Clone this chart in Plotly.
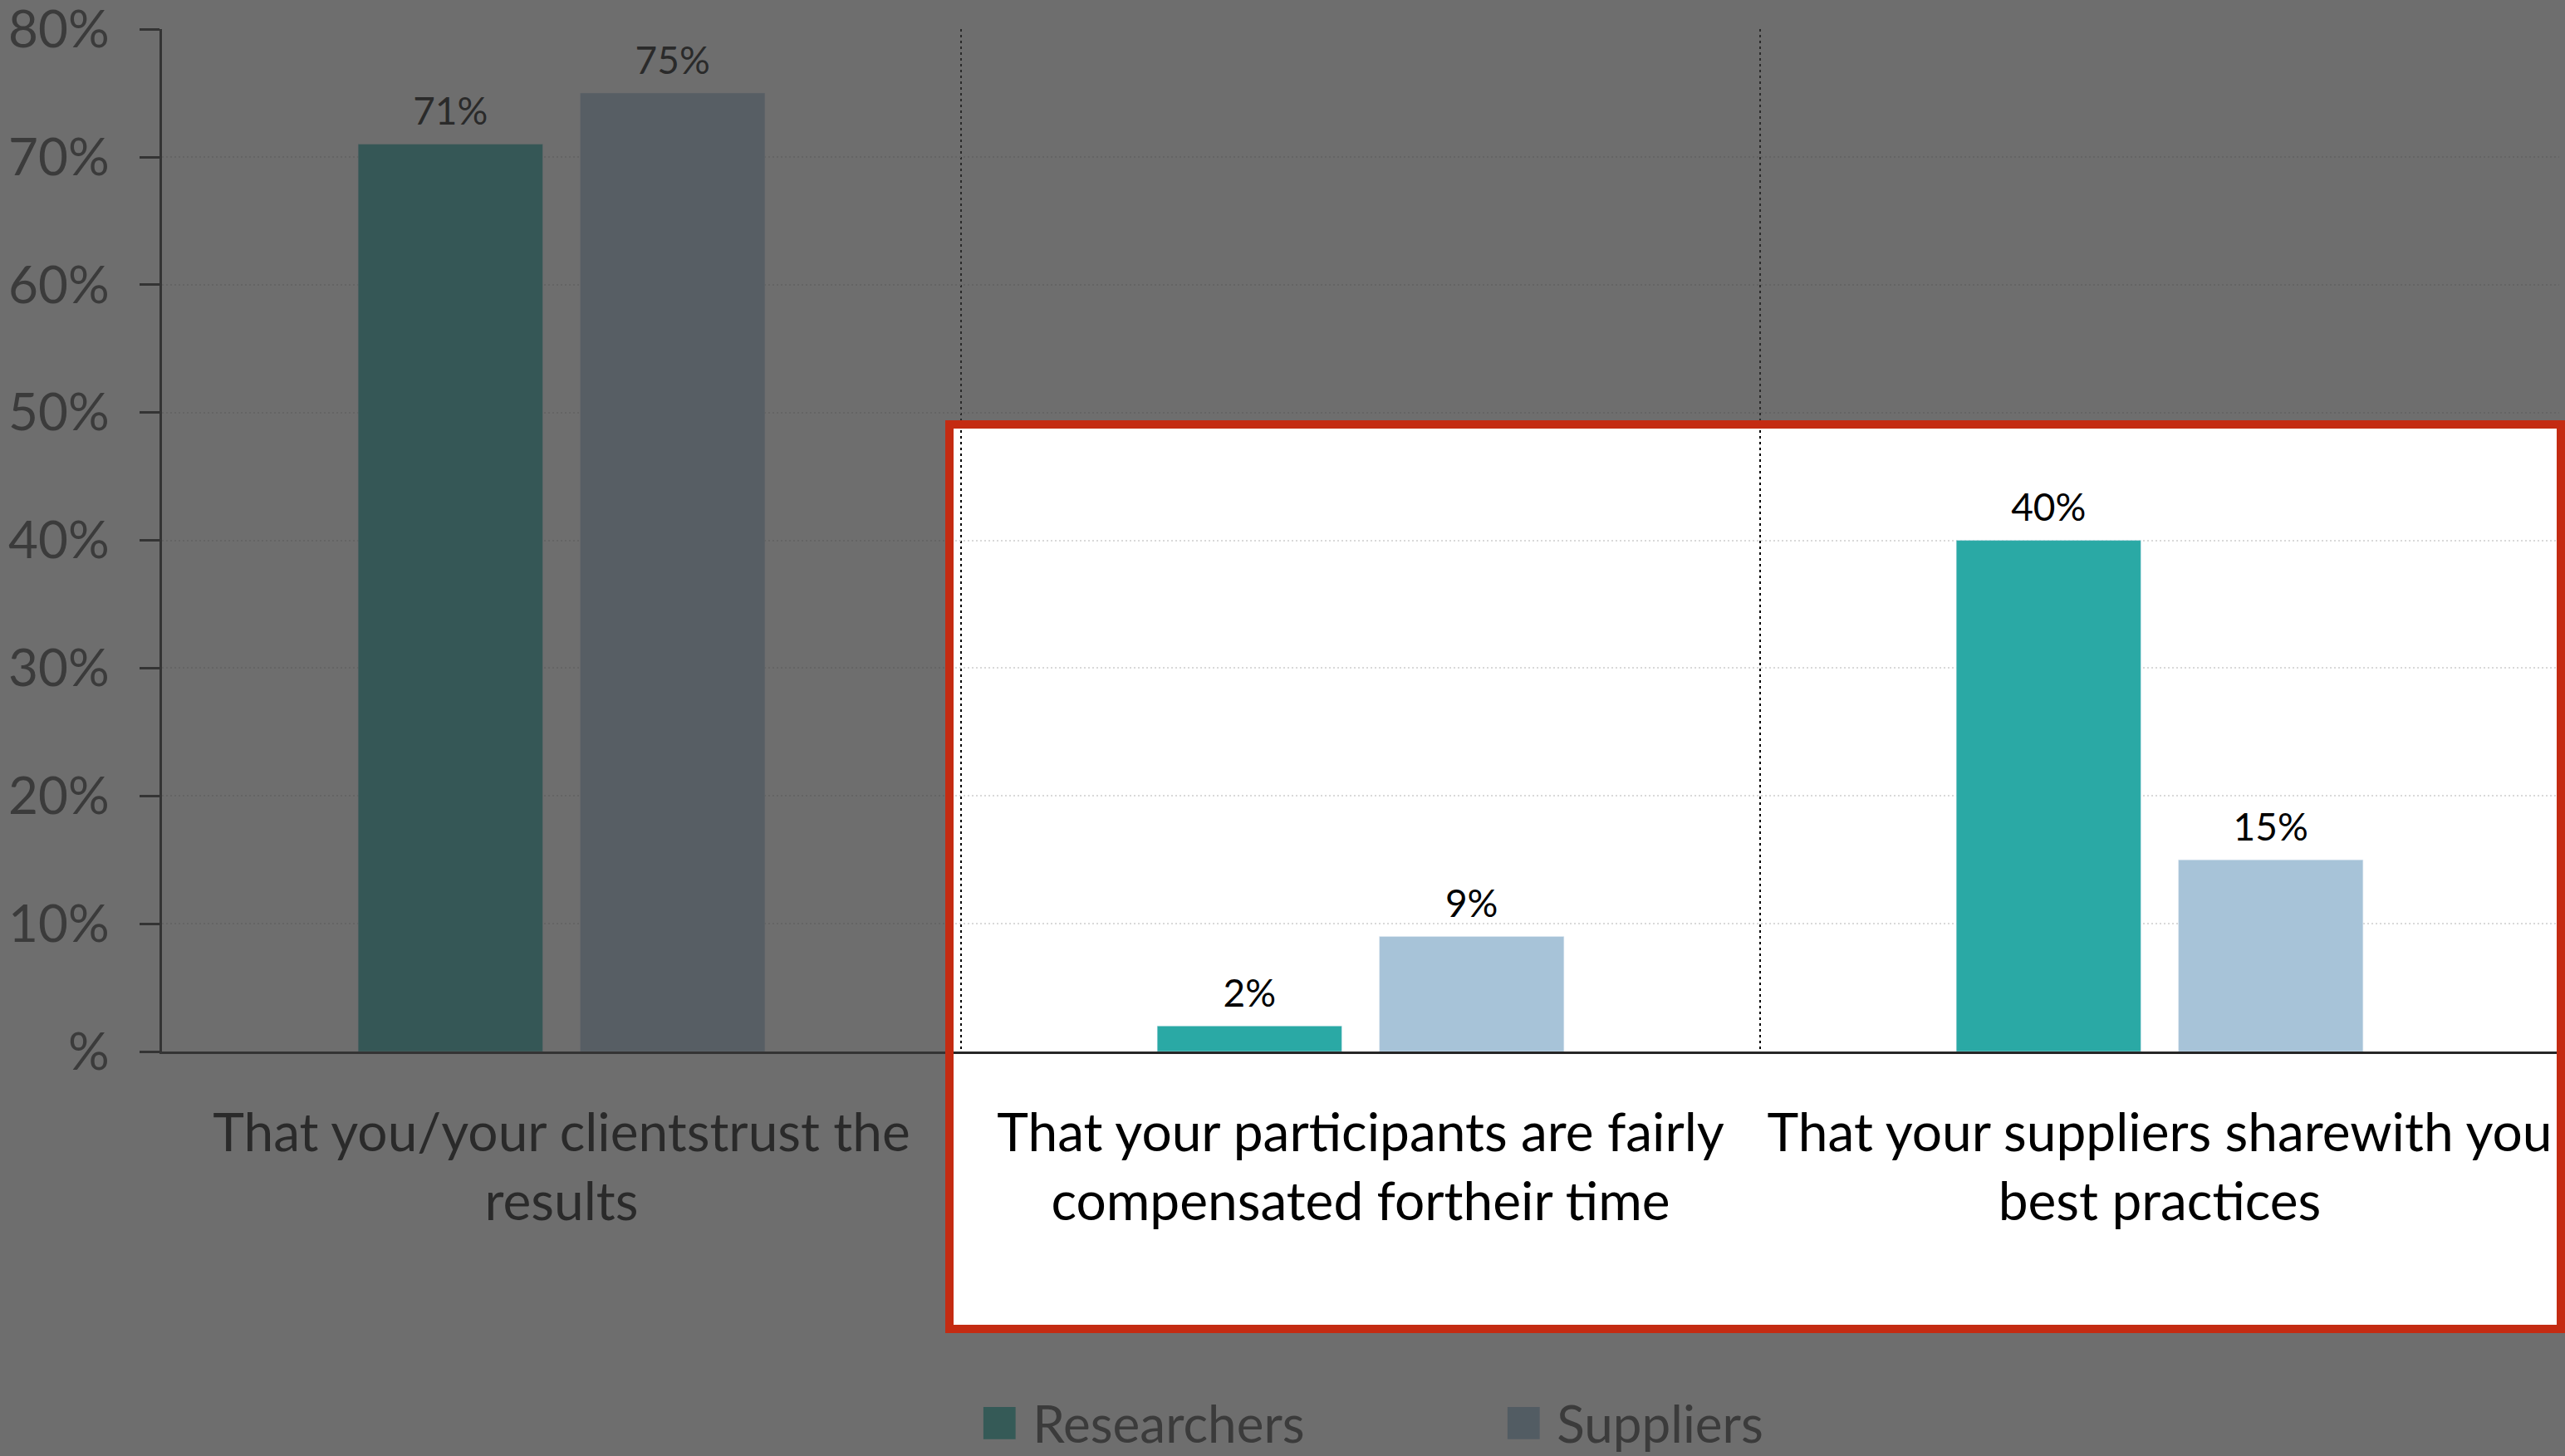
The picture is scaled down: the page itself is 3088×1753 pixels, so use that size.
import plotly.graph_objects as go

# ---- data -------------------------------------------------------------
categories = [
    "That you/your clientstrust the<br>results",
    "That your participants are fairly<br>compensated fortheir time",
    "That your suppliers sharewith you<br>best practices",
]
researchers = [0.71, 0.02, 0.40]
suppliers = [0.75, 0.09, 0.15]
series_names = ["Researchers", "Suppliers"]

y_tickvals = [0, 0.1, 0.2, 0.3, 0.4, 0.5, 0.6, 0.7, 0.8]
y_ticktext = ["%", "10%", "20%", "30%", "40%", "50%", "60%", "70%", "80%"]

# ---- styling ----------------------------------------------------------
FONT = "Lato, 'Open Sans', sans-serif"
TEAL = "#2aa9a5"
LIGHT_BLUE = "#a7c3d8"
TEAL_DIM = "#355a57"
BLUE_DIM = "#525c63"
AXIS = "#262626"
SHADE = "rgba(57,57,57,0.732)"
FRAME_RED = "#c42b12"

W, H = 3088, 1753
M_L, M_R, M_T, M_B = 195, 7, 35, 487
BARGAP = 0.444

fig = go.Figure()

for name, vals, col, grp in [
    (series_names[0], researchers, TEAL, "r"),
    (series_names[1], suppliers, LIGHT_BLUE, "s"),
]:
    fig.add_trace(go.Bar(
        x=categories, y=vals, name=name, marker_color=col,
        offsetgroup=grp, showlegend=False, hoverinfo="skip",
    ))
    # value labels sitting above each bar
    fig.add_trace(go.Scatter(
        x=categories, y=vals, mode="markers+text",
        offsetgroup=grp, alignmentgroup="lbl",
        text=[f"{v:.0%}" for v in vals], textposition="top center",
        textfont=dict(family=FONT, size=46, color="#000000"),
        marker=dict(size=17, opacity=0),
        showlegend=False, hoverinfo="skip",
    ))

# legend entries (dimmed, as the legend sits in the shaded area)
for name, col in [(series_names[0], TEAL_DIM), (series_names[1], BLUE_DIM)]:
    fig.add_trace(go.Scatter(
        x=[None], y=[None], mode="lines",
        line=dict(width=0, color="rgba(0,0,0,0)"),
        name=(f'<span style="color:{col};font-size:80px">■</span>'
              f' {name}'),
    ))

# ---- highlight frame + shading around it ------------------------------
def px_x(p):
    return (p - M_L) / (W - M_L - M_R)


def px_y(p):
    return (H - M_B - p) / (H - M_T - M_B)


hx0, hx1 = px_x(1143), px_x(3083)
hy1, hy0 = px_y(511), px_y(1600)

# shade everything except the highlighted window (outer ring minus hole)
shade_path = (
    "M -1,-2 L 2,-2 L 2,2 L -1,2 Z "
    f"M {hx0},{hy0} L {hx0},{hy1} L {hx1},{hy1} L {hx1},{hy0} Z"
)
shapes = [
    dict(type="path", xref="paper", yref="paper", path=shade_path,
         layer="above", fillcolor=SHADE, line=dict(width=0)),
    dict(type="rect", xref="paper", yref="paper",
         x0=hx0, x1=hx1, y0=hy0, y1=hy1, layer="above",
         fillcolor="rgba(0,0,0,0)", line=dict(color=FRAME_RED, width=10)),
]

fig.update_layout(
    width=W, height=H,
    margin=dict(l=M_L, r=M_R, t=M_T, b=M_B, autoexpand=False),
    paper_bgcolor="white", plot_bgcolor="white",
    barmode="group", bargap=BARGAP, bargroupgap=0.169,
    scattermode="group", scattergap=BARGAP,
    font=dict(family=FONT, color="#000000"),
    shapes=shapes,
    legend=dict(
        orientation="h", x=px_x(1139), xanchor="left",
        y=px_y(1713), yanchor="middle",
        font=dict(family=FONT, size=62, color="#3b3b3b"),
        bgcolor="rgba(0,0,0,0)", entrywidth=586, entrywidthmode="pixels",
    ),
    xaxis=dict(
        type="category", range=[-0.5, 2.5], tickson="boundaries",
        ticks="", showgrid=True, gridcolor="#000000", gridwidth=2,
        griddash="3px,4px",
        showline=True, linecolor=AXIS, linewidth=3,
        tickfont=dict(family=FONT, size=64, color="#000000"),
        ticklabelstandoff=40,
    ),
    yaxis=dict(
        range=[0, 0.8001], tickvals=y_tickvals, ticktext=y_ticktext,
        ticks="outside", ticklen=24, tickwidth=3, tickcolor=AXIS,
        showline=True, linecolor=AXIS, linewidth=3,
        showgrid=True, gridcolor="#d9d9d9", gridwidth=2, griddash="2px,3px",
        zeroline=False, ticklabeloverflow="allow",
        tickfont=dict(family=FONT, size=62, color="#404040"),
        ticklabelstandoff=24,
    ),
    # inner half of the cross tick marks on the value axis
    yaxis2=dict(
        overlaying="y", matches="y", side="left", tickvals=y_tickvals,
        ticks="inside", ticklen=23, tickwidth=3, tickcolor=AXIS,
        showticklabels=False, showgrid=False, showline=False, zeroline=False,
    ),
)

fig.write_html("out.html")
